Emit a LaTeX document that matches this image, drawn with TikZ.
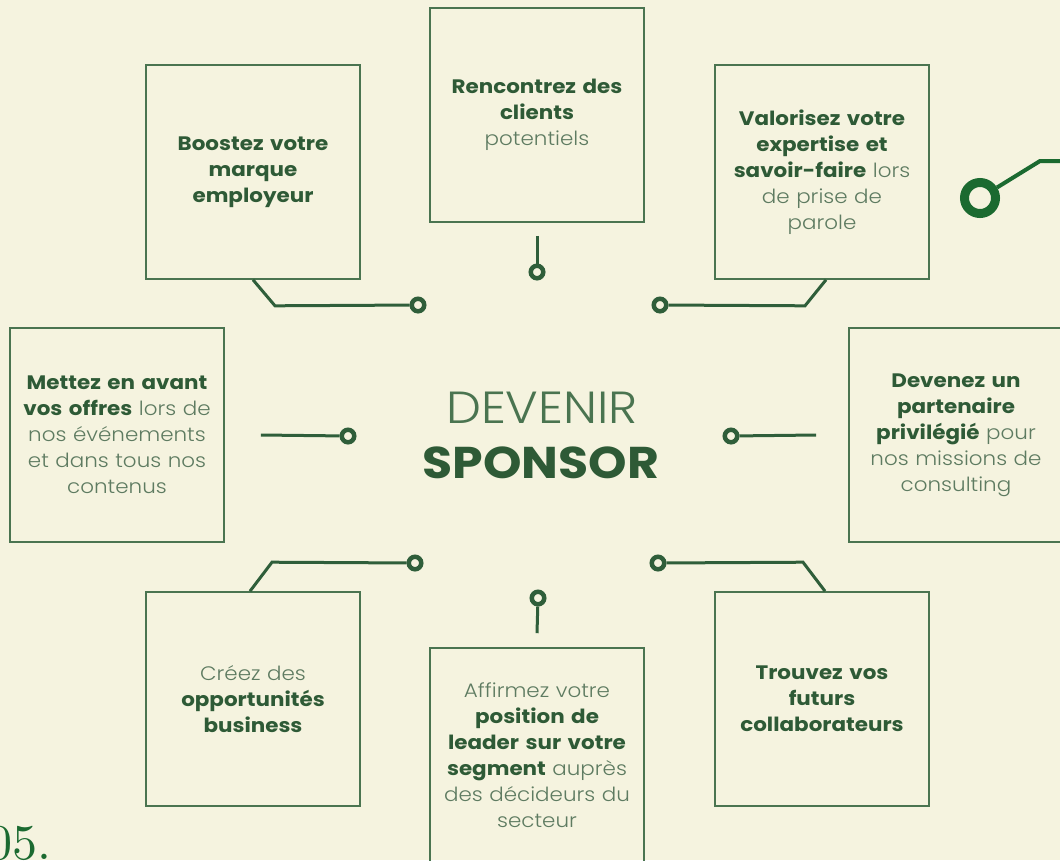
\documentclass[tikz,border=0pt]{standalone}
\usepackage{fontspec}
\setmainfont{Poppins}[FakeStretch=1.1]
\newfontfamily\thinfont{Poppins Light}[FakeStretch=1.1]
\newfontfamily\numfont{lmroman10-regular.otf}
\usepackage{tikz}
\usetikzlibrary{positioning,calc}

\definecolor{bgcream}{HTML}{F5F3DF}
\definecolor{boxgreen}{HTML}{4A7450}
\definecolor{wiregreen}{HTML}{2F5E3A}
\definecolor{darkgreen}{HTML}{2E5A36}
\definecolor{softgreen}{HTML}{5E7B61}
\definecolor{brightgreen}{HTML}{1B6A30}

\newcommand{\bld}[1]{\textcolor{darkgreen}{\normalfont\bfseries #1}}

\begin{document}
\begin{tikzpicture}[x=1pt,y=-1pt,
  box/.style={draw=boxgreen,line width=1.6pt,minimum width=214pt,minimum height=214pt,
              text width=204pt,align=center,inner sep=3pt,text=softgreen,
              font=\fontsize{19.5}{26}\thinfont},
  pin/.style={circle,draw=wiregreen,fill=bgcream,line width=4.5pt,minimum size=12.5pt,inner sep=0pt},
  wire/.style={draw=wiregreen,line width=3pt}]
  \useasboundingbox (0,0) rectangle (1060,860);
  \fill[bgcream] (0,0) rectangle (1060,860);
  \clip (0,0) rectangle (1060,860);

  % boxes
  \node[box] (b1) at (253,172) {\bld{Boostez votre}\\ \bld{marque}\\ \bld{employeur}};
  \node[box] (b2) at (537,115) {\bld{Rencontrez des}\\ \bld{clients}\\ potentiels};
  \node[box] (b3) at (822,172) {\bld{Valorisez votre}\\ \bld{expertise et}\\ \bld{savoir-faire} lors\\ de prise de\\ parole};
  \node[box] (b4) at (117,435) {\bld{Mettez en avant}\\ \bld{vos offres} lors de\\ nos événements\\ et dans tous nos\\ contenus};
  \node[box] (b5) at (956,435) {\bld{Devenez un}\\ \bld{partenaire}\\ \bld{privilégié} pour\\ nos missions de\\ consulting};
  \node[box] (b6) at (253,699) {Créez des\\ \bld{opportunités}\\ \bld{business}};
  \node[box] (b7) at (537,755) {Affirmez votre\\ \bld{position de}\\ \bld{leader sur votre}\\ \bld{segment} auprès\\ des décideurs du\\ secteur};
  \node[box] (b8) at (822,699) {\bld{Trouvez vos}\\ \bld{futurs}\\ \bld{collaborateurs}};

  % centre title
  \node[anchor=base,text=boxgreen,font=\fontsize{45}{45}\thinfont] (t1) at (542,423) {DEVENIR};
  \node[anchor=base,text=darkgreen,font=\fontsize{44.5}{44.5}\selectfont\bfseries] (t2) at (541,478) {SPONSOR};

  % pins
  \node[pin] (p1) at (418,305) {};
  \node[pin] (p2) at (537,272) {};
  \node[pin] (p3) at (660,305) {};
  \node[pin] (p4) at (348,436) {};
  \node[pin] (p5) at (731,436) {};
  \node[pin] (p6) at (415,563) {};
  \node[pin] (p7) at (538,598) {};
  \node[pin] (p8) at (658,563) {};

  % wires
  \draw[wire] (b1.south) -- ++(22,26) -- (p1);
  \draw[wire] ($(b2.south)+(0,13)$) -- (p2);
  \draw[wire] (p3) -- ($(b3.south)+(-17,26)$) -- ($(b3.south)+(4,0)$);
  \draw[wire] ($(b4.east)+(36,0)$) -- (p4);
  \draw[wire] (p5) -- ($(b5.west)+(-32,0)$);
  \draw[wire] ($(b6.north)+(-3,0)$) -- ++(22,-29) -- (p6);
  \draw[wire] ($(b7.north)+(0,-14)$) -- (p7);
  \draw[wire] (p8) -- ($(b8.north)+(-19,-29)$) -- ($(b8.north)+(3,0)$);

  % big ring at the right edge
  \node[circle,draw=brightgreen,line width=9pt,minimum size=31pt,inner sep=0pt] (ring) at (980,198) {};
  \coordinate (kink) at (1040,161);
  \coordinate (edge) at (1070,161);
  \draw[brightgreen,line width=4pt] (ring) -- (kink) -- (edge);

  % page number
  \node[anchor=base west,text=brightgreen,font=\numfont\fontsize{50}{50}\selectfont,inner sep=0pt] (num) at (-13,859) {05.};
\end{tikzpicture}
\end{document}
